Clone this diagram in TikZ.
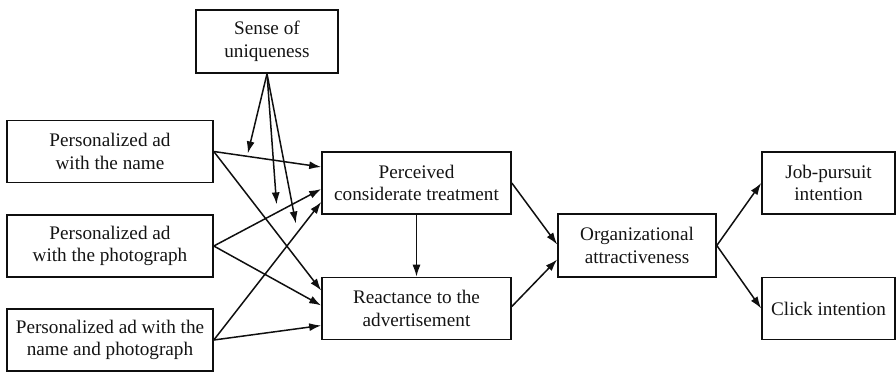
\documentclass[tikz,border=0pt]{standalone}
\usepackage{fontspec}
\setmainfont{Liberation Serif}
\usetikzlibrary{arrows.meta}
\definecolor{pathblack}{RGB}{15,15,15}
\definecolor{labelgray}{RGB}{20,20,20}

\begin{document}
\begin{tikzpicture}[x=1pt, y=-1pt,
  box/.style={draw=pathblack, line width=1.6pt, align=center, inner sep=0pt,
    text=labelgray, font=\fontsize{19.2}{22.5}\selectfont},
  adbox/.style={box, minimum width=206pt, minimum height=62pt},
  medbox/.style={box, minimum width=189pt, minimum height=62pt},
  outbox/.style={box, minimum width=133pt, minimum height=62pt},
  arr/.style={draw=pathblack, line width=1.5pt, -{Latex[length=12pt,width=8pt]}}]
\useasboundingbox (0,0) rectangle (896,372);

% Moderator on top
\node[box, minimum width=142pt, minimum height=63pt] (sense) at (267,41.5) {Sense of\\uniqueness};

% Personalized ads
\node[adbox] (name) at (110,151.5) {Personalized ad\\with the name};
\node[adbox] (photo) at (110,246) {Personalized ad\\with the photograph};
\node[adbox] (both) at (110,340) {Personalized ad with the\\name and photograph};

% Mediators
\node[medbox] (perc) at (416.5,183) {Perceived\\considerate treatment};
\node[medbox] (react) at (416.5,308.5) {Reactance to the\\advertisement};

% Outcomes
\node[box, minimum width=158pt, minimum height=63pt] (org) at (637,245.5) {Organizational\\attractiveness};
\node[outbox] (job) at (828.5,183) {Job-pursuit\\intention};
\node[outbox] (click) at (828.5,308.5) {Click intention};

% Ads to mediators
\draw[arr] (name.east) -- coordinate[pos=0.31] (m1) ([yshift=16pt]perc.west);
\draw[arr] (photo.east) -- coordinate[pos=0.59] (m2) ([yshift=-6pt]perc.west);
\draw[arr] (both.east) -- coordinate[pos=0.78] (m3) ([yshift=-19pt]perc.west);
\draw[arr] (name.east) -- ([yshift=18pt]react.west);
\draw[arr] (photo.east) -- ([yshift=3pt]react.west);
\draw[arr] (both.east) -- ([yshift=-17pt]react.west);

% Moderation
\draw[arr, shorten >=3pt] (sense.south) -- (m1);
\draw[arr, shorten >=8pt] (sense.south) -- (m2);
\draw[arr, shorten >=9pt] (sense.south) -- (m3);

% Mediators to outcomes
\draw[arr] (perc.south) -- (react.north);
\draw[arr] (perc.east) -- ([yshift=1pt]org.west);
\draw[arr] ([yshift=2pt]react.east) -- ([yshift=-14pt]org.west);
\draw[arr] (org.east) -- (job.west);
\draw[arr] (org.east) -- (click.west);
\end{tikzpicture}
\end{document}
